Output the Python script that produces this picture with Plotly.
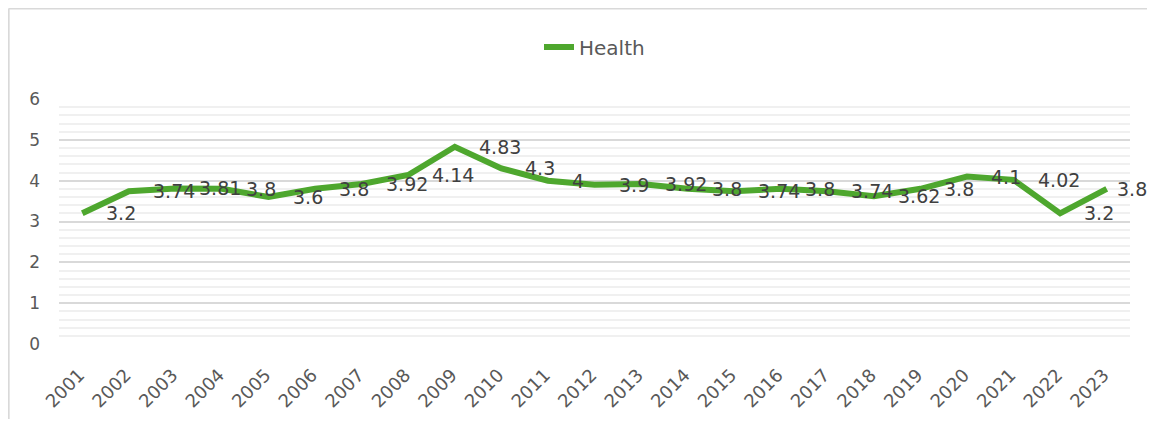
import plotly.graph_objects as go

years = [str(y) for y in range(2001, 2024)]
health = [3.2, 3.74, 3.81, 3.8, 3.6, 3.8, 3.92, 4.14, 4.83, 4.3, 4.0, 3.9,
          3.92, 3.8, 3.74, 3.8, 3.74, 3.62, 3.8, 4.1, 4.02, 3.2, 3.8]
y_ticks = [0, 1, 2, 3, 4, 5, 6]

GREEN = "#4ea72e"
FONT = "DejaVu Sans, Verdana, sans-serif"

fig = go.Figure()
fig.add_trace(go.Scatter(
    x=years, y=health, mode="lines", name="Health",
    line=dict(color=GREEN, width=6),
))

# data labels to the right of each point (Excel "Right" label position)
# category index is used because "2001" would be read as an index number
last = len(health) - 1
for i, v in enumerate(health):
    fig.add_annotation(x=i, y=v, text=f"{v:g}", showarrow=False,
                       xanchor="left", yanchor="middle",
                       xshift=8 if i == last else 22,
                       font=dict(family=FONT, size=19, color="#404040"))

# outer chart border: only top and left edges are in view
border = dict(color="#d9d9d9", width=2)
fig.add_shape(type="line", xref="paper", yref="paper",
              x0=-0.047, x1=1.1, y0=1.369, y1=1.369, line=border)
fig.add_shape(type="line", xref="paper", yref="paper",
              x0=-0.047, x1=-0.047, y0=-0.6, y1=1.369, line=border)

# page body has an 8px margin; keep the figure inside the window
fig.update_layout(
    width=1139, height=411,
    margin=dict(l=51, r=17, t=91, b=75, autoexpand=False),
    paper_bgcolor="white", plot_bgcolor="white",
    font=dict(family=FONT, size=17, color="#595959"),
    showlegend=True,
    legend=dict(orientation="h", x=0.5, xanchor="center", y=1.212, yanchor="middle",
                bgcolor="rgba(0,0,0,0)",
                font=dict(size=20, color="#595959")),
    xaxis=dict(type="category", range=[-0.5, 22.5], tickangle=-45,
               showgrid=False, showline=False, ticks="",
               ticklabelstandoff=16, ticklabelshift=-3,
               tickfont=dict(size=18)),
    yaxis=dict(range=[0, 6], tickvals=y_ticks, showgrid=True,
               gridcolor="#d9d9d9", gridwidth=1.5, zeroline=False,
               showline=False, ticks="", ticklabelstandoff=18,
               minor=dict(dtick=0.2, showgrid=True, gridcolor="#f0f0f0", gridwidth=1.5)),
)

fig.write_html("out.html")
